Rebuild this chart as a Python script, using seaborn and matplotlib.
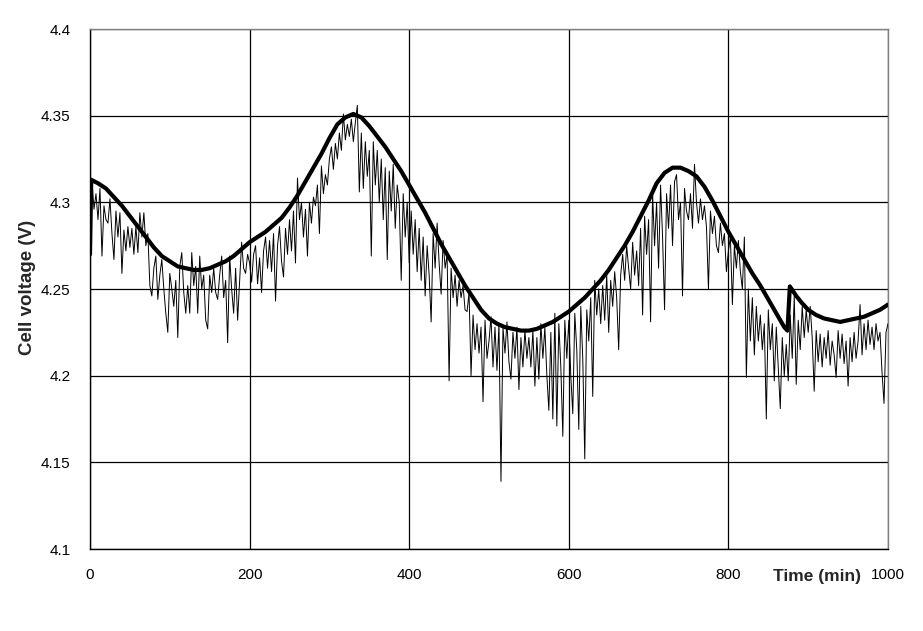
import numpy as np
import pandas as pd
import matplotlib
matplotlib.use("Agg")
import matplotlib.pyplot as plt
import seaborn as sns

# measured cell voltage, one reading every 2.5 min (0 .. 1000 min)
measured_v = [
    4.300, 4.313, 4.296, 4.305, 4.290, 4.308, 4.269, 4.298, 4.290, 4.288,
    4.302, 4.282, 4.267, 4.295, 4.280, 4.294, 4.259, 4.284, 4.272, 4.286,
    4.274, 4.285, 4.270, 4.286, 4.271, 4.294, 4.280, 4.294, 4.275, 4.282,
    4.252, 4.246, 4.262, 4.269, 4.244, 4.258, 4.267, 4.250, 4.236, 4.225,
    4.259, 4.250, 4.240, 4.255, 4.222, 4.263, 4.271, 4.248, 4.236, 4.252,
    4.236, 4.271, 4.252, 4.263, 4.236, 4.269, 4.250, 4.258, 4.232, 4.227,
    4.258, 4.248, 4.262, 4.248, 4.244, 4.258, 4.269, 4.245, 4.255, 4.219,
    4.269, 4.250, 4.236, 4.262, 4.232, 4.255, 4.277, 4.262, 4.259, 4.270,
    4.265, 4.254, 4.270, 4.275, 4.253, 4.268, 4.248, 4.272, 4.280, 4.262,
    4.278, 4.260, 4.282, 4.243, 4.275, 4.286, 4.266, 4.257, 4.285, 4.270,
    4.290, 4.272, 4.295, 4.265, 4.314, 4.290, 4.300, 4.280, 4.296, 4.269,
    4.300, 4.288, 4.303, 4.298, 4.310, 4.282, 4.321, 4.305, 4.316, 4.310,
    4.325, 4.332, 4.319, 4.334, 4.325, 4.340, 4.330, 4.351, 4.336, 4.345,
    4.338, 4.348, 4.335, 4.346, 4.356, 4.306, 4.340, 4.308, 4.335, 4.315,
    4.330, 4.269, 4.335, 4.310, 4.330, 4.300, 4.325, 4.290, 4.320, 4.267,
    4.318, 4.295, 4.322, 4.285, 4.310, 4.300, 4.255, 4.305, 4.280, 4.300,
    4.265, 4.295, 4.270, 4.290, 4.260, 4.285, 4.255, 4.280, 4.246, 4.275,
    4.258, 4.231, 4.282, 4.262, 4.288, 4.265, 4.247, 4.278, 4.262, 4.270,
    4.197, 4.262, 4.245, 4.258, 4.240, 4.255, 4.245, 4.252, 4.238, 4.237,
    4.248, 4.200, 4.235, 4.215, 4.230, 4.213, 4.228, 4.185, 4.232, 4.210,
    4.220, 4.234, 4.205, 4.228, 4.203, 4.230, 4.139, 4.228, 4.213, 4.231,
    4.208, 4.198, 4.225, 4.210, 4.228, 4.192, 4.222, 4.205, 4.226, 4.210,
    4.222, 4.205, 4.226, 4.194, 4.222, 4.198, 4.230, 4.210, 4.228, 4.200,
    4.180, 4.225, 4.175, 4.236, 4.171, 4.230, 4.205, 4.165, 4.232, 4.210,
    4.232, 4.200, 4.178, 4.236, 4.215, 4.169, 4.240, 4.210, 4.152, 4.238,
    4.220, 4.245, 4.188, 4.255, 4.235, 4.250, 4.230, 4.252, 4.232, 4.258,
    4.225, 4.255, 4.240, 4.260, 4.245, 4.215, 4.258, 4.270, 4.255, 4.275,
    4.262, 4.250, 4.277, 4.258, 4.272, 4.252, 4.285, 4.235, 4.292, 4.270,
    4.290, 4.231, 4.305, 4.275, 4.300, 4.262, 4.310, 4.280, 4.238, 4.305,
    4.285, 4.310, 4.275, 4.312, 4.316, 4.290, 4.300, 4.246, 4.308, 4.295,
    4.290, 4.305, 4.285, 4.322, 4.300, 4.288, 4.302, 4.290, 4.298, 4.286,
    4.250, 4.295, 4.282, 4.292, 4.275, 4.271, 4.288, 4.275, 4.282, 4.260,
    4.272, 4.280, 4.241, 4.275, 4.262, 4.278, 4.260, 4.250, 4.280, 4.199,
    4.250, 4.220, 4.245, 4.212, 4.240, 4.220, 4.235, 4.215, 4.230, 4.175,
    4.238, 4.215, 4.230, 4.197, 4.228, 4.205, 4.181, 4.222, 4.200, 4.218,
    4.197, 4.235, 4.210, 4.246, 4.195, 4.232, 4.215, 4.240, 4.222, 4.238,
    4.225, 4.240, 4.222, 4.191, 4.226, 4.208, 4.224, 4.205, 4.222, 4.210,
    4.226, 4.206, 4.220, 4.212, 4.199, 4.226, 4.210, 4.224, 4.207, 4.220,
    4.194, 4.222, 4.208, 4.225, 4.210, 4.220, 4.241, 4.212, 4.230, 4.215,
    4.232, 4.218, 4.228, 4.215, 4.230, 4.220, 4.225, 4.202, 4.184, 4.225,
    4.230,
]
measured_t = np.arange(len(measured_v)) * 2.5

model_t = [0, 1.5, 10, 20, 30, 40, 50, 60, 70, 80, 90, 100, 110, 120, 130,
           140, 150, 160, 170, 180, 190, 200, 210, 220, 230, 240, 250, 260,
           270, 280, 290, 300, 310, 320, 330, 340, 350, 360, 370, 380, 390,
           400, 410, 420, 430, 440, 450, 460, 470, 480, 490, 500, 510, 520,
           530, 540, 550, 560, 570, 580, 590, 600, 610, 620, 630, 640, 650,
           660, 670, 680, 690, 700, 710, 720, 730, 740, 750, 760, 770, 780,
           790, 800, 810, 820, 830, 840, 850, 860, 870, 874, 877, 885, 892,
           900, 910, 920, 930, 940, 950, 960, 970, 980, 990, 1000]
model_v = [4.270, 4.313, 4.311, 4.308, 4.303, 4.298, 4.292, 4.286, 4.280, 4.274,
           4.269, 4.266, 4.263, 4.262, 4.261, 4.261, 4.262, 4.264, 4.266, 4.269,
           4.273, 4.277, 4.280, 4.283, 4.287, 4.291, 4.297, 4.304, 4.312, 4.320,
           4.328, 4.337, 4.345, 4.349, 4.351, 4.349, 4.344, 4.338, 4.332, 4.325,
           4.318, 4.310, 4.302, 4.294, 4.285, 4.276, 4.268, 4.260, 4.252, 4.245,
           4.238, 4.233, 4.230, 4.228, 4.227, 4.226, 4.226, 4.227, 4.229, 4.231,
           4.234, 4.237, 4.241, 4.245, 4.250, 4.255, 4.261, 4.268, 4.275, 4.283,
           4.292, 4.301, 4.311, 4.317, 4.320, 4.320, 4.318, 4.315, 4.309, 4.301,
           4.292, 4.283, 4.275, 4.267, 4.259, 4.252, 4.244, 4.236, 4.228, 4.226,
           4.2515, 4.246, 4.242, 4.238, 4.235, 4.233, 4.232, 4.231, 4.232, 4.233,
           4.234, 4.236, 4.238, 4.241]

x_ticks = [0, 200, 400, 600, 800, 1000]
y_ticks = [4.1, 4.15, 4.2, 4.25, 4.3, 4.35, 4.4]
y_labels = ["4.1", "4.15", "4.2", "4.25", "4.3", "4.35", "4.4"]

measured = pd.DataFrame({"t": measured_t, "v": measured_v})
model = pd.DataFrame({"t": model_t, "v": model_v})

sns.set_style("white")
plt.rcParams["font.family"] = ["Liberation Sans", "DejaVu Sans"]

fig = plt.figure(figsize=(9.23, 6.31), dpi=100)
ax = fig.add_axes([90 / 923, 1 - 549 / 631, 798 / 923, 520 / 631])

sns.lineplot(data=measured, x="t", y="v", ax=ax, color="black", linewidth=0.7, zorder=3)
sns.lineplot(data=model, x="t", y="v", ax=ax, color="black", linewidth=3, zorder=4)

ax.set_xlim(0, 1000)
ax.set_ylim(4.1, 4.4)
ax.set_xticks(x_ticks)
ax.set_xticklabels([str(x) for x in x_ticks])
ax.set_yticks(y_ticks)
ax.set_yticklabels(y_labels)
ax.grid(True, color="black", linewidth=0.9)
ax.set_axisbelow(True)

for side in ["left", "bottom"]:
    ax.spines[side].set_color("black")
    ax.spines[side].set_linewidth(1.0)
for side in ["top", "right"]:
    ax.spines[side].set_color("#808080")
    ax.spines[side].set_linewidth(1.0)

ax.tick_params(axis="both", direction="out", length=5, width=1, colors="black",
               labelsize=11)
ax.tick_params(axis="y", pad=9)
ax.tick_params(axis="x", pad=9)
ax.set_xlabel("")
ax.set_ylabel("")

fig.text(28 / 923, 1 - 287 / 631, "Cell voltage (V)", fontsize=13.5, fontweight="bold",
         rotation=90, ha="center", va="center")
fig.text(817 / 923, 1 - 576 / 631, "Time (min)", fontsize=12.5, fontweight="bold",
         ha="center", va="center")

fig.savefig("out.png", dpi=100, facecolor="white")
